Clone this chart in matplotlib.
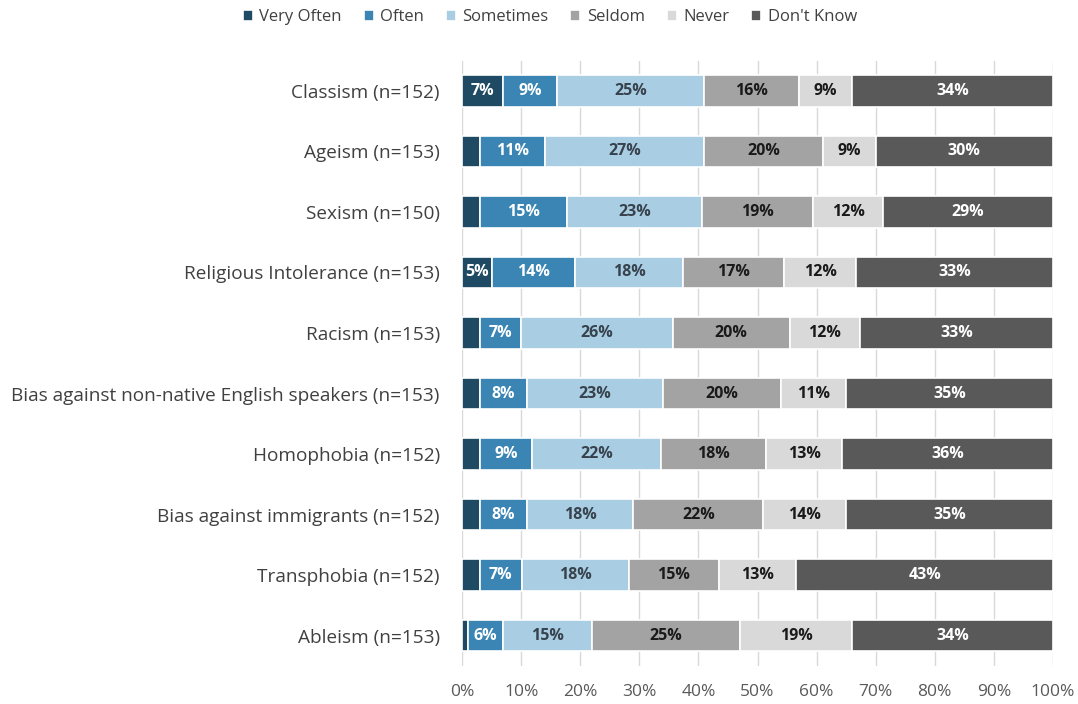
import numpy as np
import matplotlib.pyplot as plt

plt.rcParams['font.family'] = ['Open Sans', 'DejaVu Sans']

categories = [
    'Classism (n=152)',
    'Ageism (n=153)',
    'Sexism (n=150)',
    'Religious Intolerance (n=153)',
    'Racism (n=153)',
    'Bias against non-native English speakers (n=153)',
    'Homophobia (n=152)',
    'Bias against immigrants (n=152)',
    'Transphobia (n=152)',
    'Ableism (n=153)',
]
responses = ['Very Often', 'Often', 'Sometimes', 'Seldom', 'Never', "Don't Know"]

very_often = [7, 3, 3, 5, 3, 3, 3, 3, 3, 1]
often = [9, 11, 15, 14, 7, 8, 9, 8, 7, 6]
sometimes = [25, 27, 23, 18, 26, 23, 22, 18, 18, 15]
seldom = [16, 20, 19, 17, 20, 20, 18, 22, 15, 25]
never = [9, 9, 12, 12, 12, 11, 13, 14, 13, 19]
dont_know = [34, 30, 29, 33, 33, 35, 36, 35, 43, 34]

series = [very_often, often, sometimes, seldom, never, dont_know]
colors = ['#1f4a63', '#3a85b4', '#a9cee3', '#a3a3a3', '#d9d9d9', '#595959']
text_colors = ['white', 'white', '#37424d', '#1a1a1a', '#1a1a1a', 'white']

# rounded percentages don't always add to 100, so scale each row to fill the bar
totals = np.sum(np.array(series, dtype=float), axis=0)

fig = plt.figure(figsize=(10.78, 7.04), dpi=100)
ax = fig.add_axes([0.4286, 0.054, 0.5482, 0.86])

y = np.arange(len(categories))
left = np.zeros(len(categories))
for vals, name, col, tcol in zip(series, responses, colors, text_colors):
    vals = np.array(vals, dtype=float)
    widths = vals / totals * 100
    bars = ax.barh(y, widths, left=left, height=0.52, color=col,
                   edgecolor='white', linewidth=1.2, label=name, zorder=3)
    for b, v in zip(bars, vals):
        if v >= 5:
            ax.text(b.get_x() + b.get_width() / 2, b.get_y() + b.get_height() / 2,
                    f'{int(v)}%', ha='center', va='center', color=tcol,
                    fontsize=11.5, fontweight='bold', zorder=4)
    left += widths

ax.set_xlim(0, 100)
ax.set_ylim(len(categories) - 0.5, -0.5)
ax.set_yticks(y)
ax.set_yticklabels(categories, fontsize=13.7, color='#404040')
ax.set_xticks(np.arange(0, 101, 10))
ax.set_xticklabels([f'{t}%' for t in range(0, 101, 10)], fontsize=12.5, color='#595959')
ax.tick_params(axis='y', length=0, pad=16)
ax.tick_params(axis='x', length=0, pad=13)
ax.xaxis.grid(True, color='#d9d9d9', linewidth=1, zorder=0)
for s in ax.spines.values():
    s.set_visible(False)

fig.legend(loc='upper center', bbox_to_anchor=(0.51, 1.008), ncol=6, frameon=False,
           fontsize=12, handlelength=0.6, handleheight=0.6, handletextpad=0.4,
           columnspacing=1.3, labelcolor='#404040')

fig.savefig('out.png', dpi=100)
